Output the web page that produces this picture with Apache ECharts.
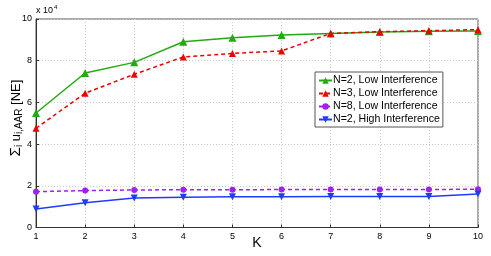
<!DOCTYPE html>
<html><head><meta charset="utf-8">
<script src="https://cdn.jsdelivr.net/npm/echarts@6/dist/echarts.min.js"></script>
<style>html,body{margin:0;padding:0;background:#fff}#c{width:491px;height:256px}</style>
</head><body><div id="c"></div>
<script>
const categories = ['1','2','3','4','5','6','7','8','9','10'];
const yTicks = [0, 2, 4, 6, 8, 10];
const seriesNames = ['N=2, Low Interference','N=3, Low Interference','N=8, Low Interference','N=2, High Interference'];
const n2Low  = [5.49, 7.41, 7.92, 8.91, 9.10, 9.23, 9.31, 9.38, 9.41, 9.42];
const n3Low  = [4.76, 6.44, 7.35, 8.18, 8.35, 8.47, 9.31, 9.39, 9.44, 9.49];
const n8Low  = [1.72, 1.77, 1.80, 1.81, 1.81, 1.82, 1.82, 1.82, 1.82, 1.84];
const n2High = [0.89, 1.19, 1.41, 1.45, 1.47, 1.48, 1.49, 1.49, 1.49, 1.61];

const chart = echarts.init(document.getElementById('c'), null, {renderer:'canvas'});
const font = 'Liberation Sans, Arial, sans-serif';
function mk(name, data, color, dashed, symbol, rotate, size){
  return {name, type:'line', data, symbol, symbolSize:size, symbolRotate:rotate||0,
    lineStyle:{color, width:1.5, type: dashed? [4,3] : 'solid'},
    itemStyle:{color}, z: 3};
}
chart.setOption({
  animation:false,
  grid:{left:36, right:13, top:19, bottom:28.5, show:true, borderColor:'#555', borderWidth:1,
        containLabel:false, outerBoundsMode:'none'},
  xAxis:{type:'value', min:1, max:10, interval:1,
    axisLine:{lineStyle:{color:'#333'}}, axisTick:{inside:true, length:3, lineStyle:{color:'#333'}},
    axisLabel:{fontFamily:font, fontSize:9, color:'#000', margin:5},
    splitLine:{show:true, lineStyle:{color:'#ccc', type:[1,2]}}},
  yAxis:{type:'value', min:0, max:10, interval:2,
    axisLine:{lineStyle:{color:'#333'}}, axisTick:{inside:true, length:3, lineStyle:{color:'#333'}},
    axisLabel:{fontFamily:font, fontSize:9, color:'#000', margin:4},
    splitLine:{show:true, lineStyle:{color:'#ccc', type:[1,2]}}},
  graphic:[
    {type:'text', left:36, top:6, style:{text:'x 10', font:'9px '+font, fill:'#000'}},
    {type:'text', left:54, top:4, style:{text:'4', font:'6px '+font, fill:'#000'}},
    {type:'text', x:257, y:243, style:{text:'K', align:'center', verticalAlign:'middle',
        fontFamily:font, fontSize:14, fill:'#000'}},
    {type:'text', x:16, y:118, rotation:Math.PI/2,
      style:{text:'{s|Σ}{sub|i} u{sub|i,AAR} [NE]', align:'center', verticalAlign:'middle',
        fontFamily:font, fontSize:13, fill:'#000',
        rich:{s:{fontSize:15, fontFamily:font, fill:'#000'},
              sub:{fontSize:10, fontFamily:font, fill:'#000', verticalAlign:'bottom', padding:[6,0,0,0]}}}}
  ],
  legend:{left:315, top:72, orient:'vertical', backgroundColor:'#fff', borderColor:'#555', borderWidth:1,
    padding:[3,3,2,3], itemGap:2, itemWidth:13, itemHeight:8,
    textStyle:{fontFamily:font, fontSize:10.6, color:'#000', padding:[0,0,0,-4]},
    data:seriesNames},
  series:[
    mk(seriesNames[0], categories.map((c,i)=>[+c, n2Low[i]]), '#22aa11', false, 'triangle', 0, 8),
    mk(seriesNames[1], categories.map((c,i)=>[+c, n3Low[i]]), '#ee0000', true, 'triangle', 0, 7),
    mk(seriesNames[2], categories.map((c,i)=>[+c, n8Low[i]]), '#a020f0', true, 'circle', 0, 6),
    mk(seriesNames[3], categories.map((c,i)=>[+c, n2High[i]]), '#1e3cff', false, 'triangle', 180, 7)
  ]
});
</script></body></html>
